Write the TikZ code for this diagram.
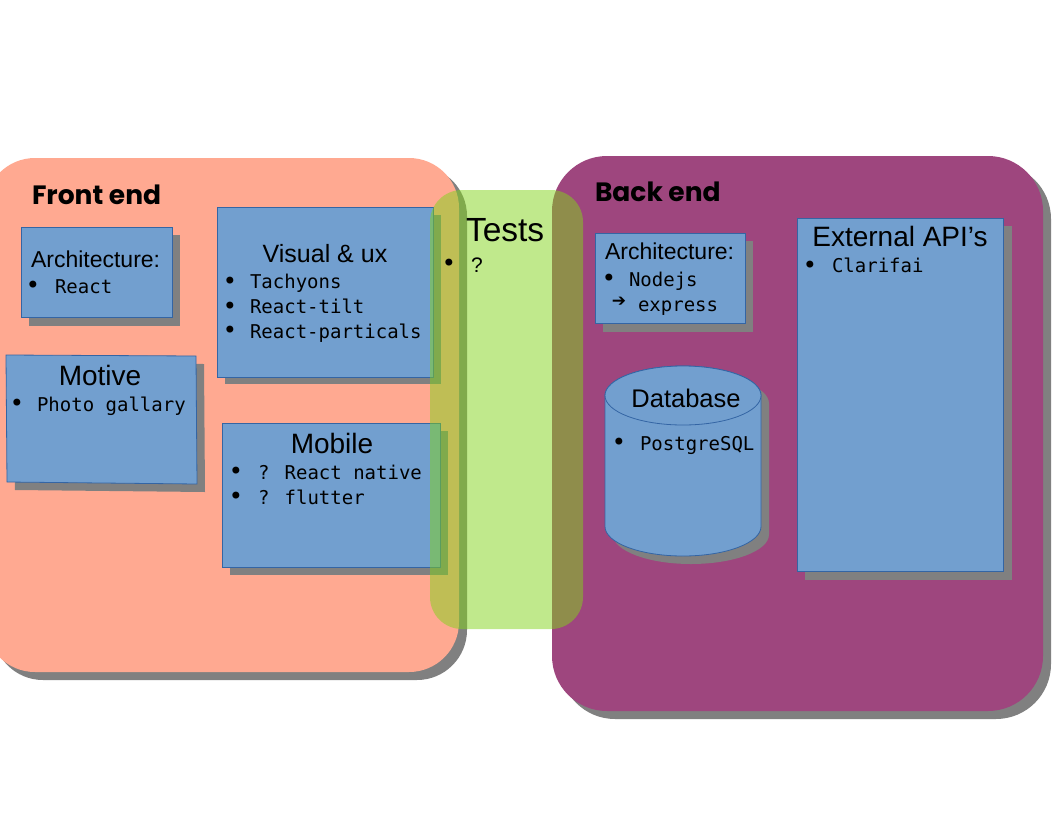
\documentclass[tikz,border=0pt]{standalone}
\usepackage{fontspec}
\setmainfont{Liberation Sans}
\newfontfamily\monof{DejaVu Sans Mono}
\newfontfamily\symf{DejaVu Sans}
\newfontfamily\titlef{Poppins}
\definecolor{salmon}{RGB}{255,169,145}
\definecolor{plum}{RGB}{158,70,126}
\definecolor{boxblue}{RGB}{114,159,207}
\definecolor{boxborder}{RGB}{52,101,164}
\definecolor{shadowgray}{RGB}{128,128,128}
\definecolor{lime}{RGB}{129,212,26}
\tikzset{
  bluebox/.style={draw=boxborder, fill=boxblue, line width=0.8pt},
  shade/.style={fill=shadowgray},
  txt/.style={inner sep=0pt, outer sep=0pt},
  ttl/.style={txt, anchor=base west, font=\titlef\bfseries\fontsize{26.5}{26.5}\selectfont},
  head/.style={txt, anchor=base},
  item/.style={txt, anchor=base west, font=\monof\fontsize{19}{19}\selectfont},
  bul/.style={txt, anchor=base, font=\symf\fontsize{24}{24}\selectfont}
}
\begin{document}
\begin{tikzpicture}[x=1pt,y=-1pt]
\useasboundingbox (0,0) rectangle (1056,816);
% group backgrounds with shadows
\fill[shade, rounded corners=50] (-7,166) rectangle (467,680);
\fill[salmon, rounded corners=50] (-15,158) rectangle (459,672);
\fill[shade, rounded corners=55] (560,164) rectangle (1051,719);
\fill[plum, rounded corners=55] (552,156) rectangle (1043,711);
\node[ttl] (fe) at (32,204) {Front end};
\node[ttl] (be) at (595,201) {Back end};
% Front end: Architecture
\fill[shade] (29,235) rectangle (180,326);
\path[bluebox] (21,227) rectangle (172,317);
\node[txt, anchor=base west, font=\fontsize{23}{23}\selectfont] (fa) at (31,267) {Architecture:};
\node[bul] (fab) at (33,293) {•};
\node[item] (fai) at (55,293) {React};
% Visual & ux
\fill[shade] (225,215) rectangle (441,384);
\path[bluebox] (217,207) rectangle (433,377);
\node[head, font=\fontsize{25}{25}\selectfont] (vu) at (325,262) {Visual \& ux};
\node[bul] (vub1) at (230,289) {•};
\node[item] (vu1) at (250,288) {Tachyons};
\node[bul] (vub2) at (230,314) {•};
\node[item] (vu2) at (250,313) {React-tilt};
\node[bul] (vub3) at (230,338.5) {•};
\node[item] (vu3) at (250,338) {React-particals};
% Motive
\fill[shade] (14,363) -- (204,364) -- (205,492) -- (15,490) -- cycle;
\path[bluebox] (6,355) -- (196,356) -- (197,484) -- (7,482) -- cycle;
\node[head, font=\fontsize{28}{28}\selectfont] (mo) at (100,385) {Motive};
\node[bul] (mob) at (17,411) {•};
\node[item] (mo1) at (37,411) {Photo gallary};
% Mobile
\fill[shade] (230,431) rectangle (448,575);
\path[bluebox] (222,423) rectangle (440,567);
\node[head, font=\fontsize{28}{28}\selectfont] (mb) at (332,453) {Mobile};
\node[bul] (mbb1) at (236,479.5) {•};
\node[item] (mb1) at (258,479) {? React native};
\node[bul] (mbb2) at (236,504) {•};
\node[item] (mb2) at (258,504) {? flutter};
% Back end: Architecture
\fill[shade] (603,241) rectangle (753,332);
\path[bluebox] (595,233) rectangle (745,323);
\node[txt, anchor=base west, font=\fontsize{23}{23}\selectfont] (ba) at (605,259) {Architecture:};
\node[bul] (bab) at (609,286) {•};
\node[item] (ba1) at (629,286) {Nodejs};
\node[txt, anchor=center, font=\symf\fontsize{17}{17}\selectfont] (baa) at (619,302) {➔};
\node[item] (ba2) at (638,311) {express};
% Database
\fill[shade] (613,403.5) -- (613,534.5) arc[start angle=180,end angle=0,x radius=78,y radius=29.5] -- (769,403.5) arc[start angle=0,end angle=-180,x radius=78,y radius=29.5] -- cycle;
\path[bluebox] (605,395.5) -- (605,526.5) arc[start angle=180,end angle=0,x radius=78,y radius=29.5] -- (761,395.5) arc[start angle=0,end angle=-180,x radius=78,y radius=29.5] -- cycle;
\path[bluebox] (683,395.5) ellipse[x radius=78,y radius=29.5];
\node[head, font=\fontsize{25.5}{25.5}\selectfont] (db) at (686,407) {Database};
\node[bul] (dbb) at (619,450.5) {•};
\node[item] (db1) at (640,450) {PostgreSQL};
% External API's
\fill[shade] (805,226) rectangle (1012,580);
\path[bluebox] (797,218) rectangle (1003,571);
\node[head, font=\fontsize{28}{28}\selectfont] (ex) at (900,246) {External API’s};
\node[bul] (exb) at (810,273.5) {•};
\node[item] (ex1) at (832,272) {Clarifai};
% Tests overlay
\fill[lime, fill opacity=0.5, rounded corners=32] (430,190) rectangle (583,629);
\node[txt, anchor=base west, font=\fontsize{33.5}{33.5}\selectfont] (ts) at (466,241) {Tests};
\node[bul] (tsb) at (449,271) {•};
\node[txt, anchor=base west, font=\fontsize{21}{21}\selectfont] (ts1) at (471,272) {?};
\end{tikzpicture}
\end{document}
